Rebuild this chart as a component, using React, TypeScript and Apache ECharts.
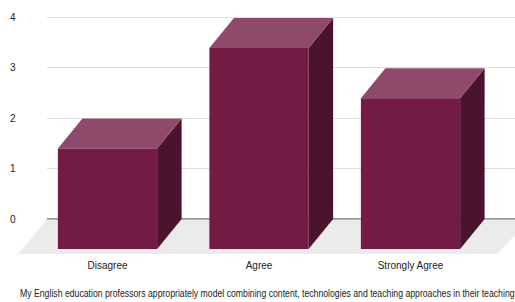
import React, { useEffect, useRef } from "react";
import * as echarts from "echarts";

const categories = ["Disagree", "Agree", "Strongly Agree"];
const counts = [2, 4, 3];
const yTicks = [0, 1, 2, 3, 4];
const axisTitle =
  "My English education professors appropriately model combining content, technologies and teaching approaches in their teaching";

const FONT = "'Liberation Sans', Arial, sans-serif";
const DX = 24.5;
const DY = -30;

export default function App() {
  const ref = useRef<HTMLDivElement>(null);
  useEffect(() => {
    document.body.style.margin = "0";
    if (!ref.current) return;
    const chart = echarts.init(ref.current, null, { renderer: "svg" });
    chart.setOption({
      animation: false,
      grid: [
        { left: 47, right: 0, top: 17, bottom: 83 },
        { left: 31.75, right: 28.75, top: 48, bottom: 53 },
      ],
      xAxis: [
        {
          gridIndex: 0,
          type: "value",
          min: 0,
          max: 1,
          show: false,
        },
        {
          gridIndex: 1,
          type: "category",
          data: categories,
          axisLine: { show: false },
          axisTick: { show: false },
          axisLabel: {
            margin: 11,
            fontSize: 10,
            fontFamily: FONT,
            color: "#222222",
          },
        },
      ],
      yAxis: [
        {
          gridIndex: 0,
          type: "value",
          min: 0,
          max: yTicks[yTicks.length - 1],
          interval: 1,
          axisLine: { show: false },
          axisTick: { show: false },
          axisLabel: {
            align: "left",
            margin: 37,
            fontSize: 10,
            fontFamily: FONT,
            color: "#222222",
          },
          splitLine: { lineStyle: { color: "#e0e0e0", width: 1 } },
        },
        {
          gridIndex: 1,
          type: "value",
          min: 0,
          max: yTicks[yTicks.length - 1],
          show: false,
          splitLine: { show: false },
        },
      ],
      graphic: [
        {
          type: "polygon",
          z: 0,
          silent: true,
          shape: {
            points: [
              [47, 219.5],
              [530, 219.5],
              [497, 254],
              [18, 254],
            ],
          },
          style: { fill: "#ebebeb" },
        },
        {
          type: "text",
          z: 10,
          x: 20,
          y: 294,
          scaleX: 0.87,
          style: {
            text: axisTitle,
            fontSize: 10,
            fontFamily: FONT,
            fill: "#222222",
            textVerticalAlign: "middle",
          },
        },
      ],
      series: [
        {
          type: "line",
          xAxisIndex: 0,
          yAxisIndex: 0,
          data: [
            [0, 0],
            [1, 0],
          ],
          symbol: "none",
          lineStyle: { color: "#333333", width: 1 },
          z: 2,
          silent: true,
        },
        {
          type: "custom",
          xAxisIndex: 1,
          yAxisIndex: 1,
          z: 5,
          data: counts.map((v, i) => [i, v]),
          renderItem: (params: any, api: any) => {
            const i = api.value(0);
            const v = api.value(1);
            const top = api.coord([i, v]);
            const base = api.coord([i, 0]);
            const band = api.size([1, 0])[0];
            const w = band * 0.655;
            const x0 = top[0] - w / 2;
            const x1 = top[0] + w / 2;
            const yt = top[1];
            const yb = base[1];
            return {
              type: "group",
              children: [
                {
                  type: "polygon",
                  shape: {
                    points: [
                      [x1, yt],
                      [x1 + DX, yt + DY],
                      [x1 + DX, yb + DY],
                      [x1, yb],
                    ],
                  },
                  style: { fill: "#4b132d" },
                },
                {
                  type: "polygon",
                  shape: {
                    points: [
                      [x0, yt],
                      [x0 + DX, yt + DY],
                      [x1 + DX, yt + DY],
                      [x1, yt],
                    ],
                  },
                  style: { fill: "#8f4a6b" },
                },
                {
                  type: "rect",
                  shape: { x: x0, y: yt, width: w, height: yb - yt },
                  style: { fill: "#731b45" },
                },
              ],
            };
          },
        },
      ],
    });
    return () => chart.dispose();
  }, []);
  return <div ref={ref} style={{ width: 515, height: 302 }} />;
}
